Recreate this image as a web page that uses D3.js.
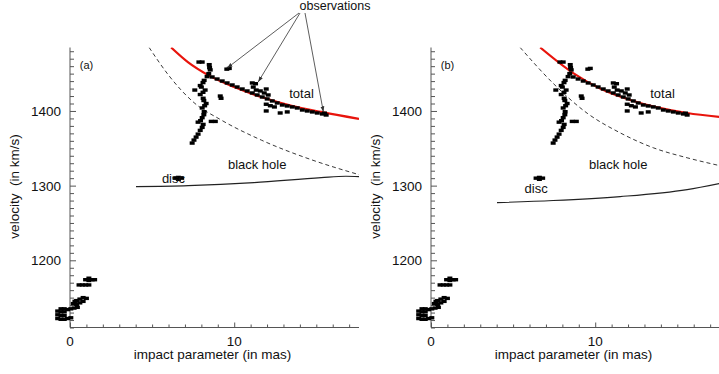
<!DOCTYPE html>
<html><head><meta charset="utf-8">
<script src="https://cdn.jsdelivr.net/npm/d3@7"></script>
<style>
html,body{margin:0;padding:0;background:#fff;}
text{font-family:"Liberation Sans",Arial,Helvetica,sans-serif;fill:#111;}
</style></head>
<body>
<svg id="chart" width="719" height="374"></svg>
<script>
// ---------------- data ----------------
const xDomain = [0, 17.6];
const yDomain = [1110, 1485];
const xMajorTicks = [0, 10];
const yMajorTicks = [1200, 1300, 1400];
const panelLabels = ["(a)", "(b)"];

// model curves, panel (a)
const totalA = [[6.16,1485],[7.2,1465],[8.41,1448],[10.0,1432],[11.65,1418.7],[13.5,1407],[15.3,1398.7],[17.6,1389.3]];
const blackHoleA = [[4.82,1485],[6.0,1448],[7.56,1411],[9.2,1388],[11.65,1361],[14.7,1334.7],[17.6,1314.7]];
const discA = [[4.02,1298.7],[7.2,1300],[11.2,1304],[15.3,1310.7],[16.8,1312.5],[17.6,1312]];
// model curves, panel (b)
const totalB = [[6.65,1485],[8.66,1450.7],[10.3,1430],[12.13,1414.7],[15.6,1397.3],[17.6,1392]];
const blackHoleB = [[5.43,1485],[7.44,1437],[9.51,1397],[11.52,1370.7],[13.54,1350.7],[15.6,1337.3],[17.6,1326.7]];
const discB = [[4.02,1277.3],[7.44,1280],[11.52,1285.3],[15.6,1294.7],[17.6,1303]];

// observed maser positions (impact parameter mas, velocity km/s) – same in both panels
const observations = [
  // near-systemic cluster
  [-0.75,1122],[-0.75,1127],[-0.75,1132],[-0.55,1121],[-0.55,1126],[-0.55,1131],[-0.55,1135],
  [-0.35,1121],[-0.35,1126],[-0.35,1131],[-0.35,1135],[-0.15,1122],[-0.15,1134],[0.05,1123],
  [0.05,1135],[0.25,1136],[0.45,1137],
  [0.2,1142],[0.4,1141],[0.4,1146],[0.6,1143],[0.6,1148],[0.8,1145],[0.8,1150],[1.0,1149],[0.3,1145],
  [0.55,1167],[0.75,1167],[0.95,1167],[1.15,1167],
  [0.95,1174],[1.15,1173],[1.15,1176],[1.35,1174],[1.5,1174],
  // disc feature
  [6.4,1310],[6.6,1311],[6.8,1310],[6.6,1308.5],
  // vertical chain near 8 mas
  [7.44,1357],[7.55,1361],[7.68,1365],[7.8,1369],[7.93,1374],[8.05,1378],[8.11,1382],[7.8,1385],
  [7.95,1387],[8.05,1391],[8.15,1395],[8.17,1399],[8.05,1404],[8.2,1407],[8.29,1410],[8.15,1414],
  [8.11,1417],[7.93,1422],[8.1,1425],[8.23,1428],[8.0,1432],[7.93,1434],[8.1,1438],[8.17,1441],
  [8.35,1446],[8.45,1450],[8.54,1455],[8.5,1458],[8.48,1462],[8.05,1465.5],[7.85,1465.5],
  [9.15,1420],[9.2,1417],[9.55,1456],[9.7,1457],[7.6,1428],[8.6,1386],[8.85,1386],
  // track along the total curve
  [8.66,1445.5],[8.96,1442.8],[9.27,1440.1],[9.57,1437.5],[9.88,1434.8],[10.18,1432.1],[10.49,1429.4],
  [10.79,1426.8],[11.1,1424.1],[11.4,1421.4],[11.71,1418.7],[12.01,1416.1],[12.32,1413.4],[12.62,1410.7],
  [12.93,1408],[13.23,1406.7],[13.54,1405.4],[13.84,1404],[14.15,1401.3],[14.45,1400],[14.76,1398.7],
  [15.06,1397.3],[15.37,1396],[15.6,1394.6],[15.5,1397],
  // S-shaped group near 11.5 mas
  [11.1,1437.5],[11.3,1436.5],[11.16,1432],[11.34,1428],[11.59,1426.8],[11.83,1424.1],[12.07,1421.4],[11.95,1429.4],
  // scattered points below the curve
  [11.95,1409],[12.2,1407],[12.45,1405.4],[11.95,1400],[12.8,1397.3],[13.23,1398.7]
];

// annotation targets (data coordinates)
const obsArrowTargets = [[9.57,1457.5],[11.46,1438.8],[15.43,1398.7]];

// ---------------- drawing ----------------
const svg = d3.select("#chart");
const yScale = d3.scaleLinear().domain(yDomain).range([327.5, 47.5]);
const panels = [
  {x0:70, x1:359, label:panelLabels[0], total:totalA, bh:blackHoleA, disc:discA,
   txt:{total:[14.1,1417.5], bh:[11.4,1322.5], disc:[6.3,1303.5], obs:true}},
  {x0:431, x1:720, label:panelLabels[1], total:totalB, bh:blackHoleB, disc:discB,
   txt:{total:[14.1,1417.5], bh:[11.4,1322.5], disc:[6.4,1290], obs:false}}
];

const defs = svg.append("defs");
defs.append("marker").attr("id","arr").attr("viewBox","0 0 10 10")
  .attr("refX",10).attr("refY",5).attr("markerWidth",7).attr("markerHeight",7)
  .attr("orient","auto").append("path").attr("d","M0,1.5 L10,5 L0,8.5 Z").attr("fill","#333");

panels.forEach((p,i)=>{
  const x = d3.scaleLinear().domain(xDomain).range([p.x0,p.x1]);
  const g = svg.append("g");
  const clipId = "clip"+i;
  defs.append("clipPath").attr("id",clipId).append("rect")
    .attr("x",p.x0-20).attr("y",yScale(yDomain[1])).attr("width",p.x1-p.x0+20).attr("height",yScale(yDomain[0])-yScale(yDomain[1]));

  // axes
  const minorX = d3.range(0,18,1);
  const minorY = d3.range(1110,1486,10);
  const ax = g.append("g").attr("stroke","#555").attr("stroke-width",1);
  ax.append("line").attr("x1",p.x0).attr("x2",p.x1).attr("y1",yScale(yDomain[0])).attr("y2",yScale(yDomain[0]));
  ax.append("line").attr("x1",p.x0).attr("x2",p.x0).attr("y1",yScale(yDomain[0])).attr("y2",yScale(yDomain[1]));
  minorX.forEach(v=>{
    const len = xMajorTicks.includes(v)?5:3;
    ax.append("line").attr("x1",x(v)+0.5).attr("x2",x(v)+0.5)
      .attr("y1",yScale(yDomain[0])).attr("y2",yScale(yDomain[0])-len);
  });
  minorY.forEach(v=>{
    const len = yMajorTicks.includes(v)?6:4;
    ax.append("line").attr("x1",p.x0).attr("x2",p.x0+len)
      .attr("y1",yScale(v)+0.5).attr("y2",yScale(v)+0.5);
  });
  xMajorTicks.forEach(v=>{
    g.append("text").attr("x",x(v)).attr("y",345.5).attr("text-anchor","middle")
      .attr("font-size",13.5).text(v);
  });
  yMajorTicks.forEach(v=>{
    g.append("text").attr("x",p.x0-9).attr("y",yScale(v)+5).attr("text-anchor","end")
      .attr("font-size",13.5).text(v);
  });
  g.append("text").attr("x",(p.x0+p.x1)/2-2).attr("y",359).attr("text-anchor","middle")
    .attr("font-size",13.5).text("impact parameter (in mas)");
  g.append("text").attr("transform",`translate(${p.x0-51},186.5) rotate(-90)`)
    .attr("text-anchor","middle").attr("font-size",13.5).attr("xml:space","preserve")
    .text("velocity  (in km/s)");
  g.append("text").attr("x",x(0.6)).attr("y",yScale(1462)+4).attr("font-size",11).text(p.label);

  // curves
  const line = d3.line().x(d=>x(d[0])).y(d=>yScale(d[1])).curve(d3.curveMonotoneX);
  const cg = g.append("g").attr("clip-path",`url(#${clipId})`);
  cg.append("path").attr("d",line(p.bh)).attr("fill","none").attr("stroke","#222")
    .attr("stroke-width",0.9).attr("stroke-dasharray","4,3");
  cg.append("path").attr("d",line(p.disc)).attr("fill","none").attr("stroke","#222").attr("stroke-width",1.1);
  cg.append("path").attr("d",line(p.total)).attr("fill","none").attr("stroke","#e8140c").attr("stroke-width",2.2);

  // observations
  g.append("g").selectAll("rect").data(observations).join("rect")
    .attr("x",d=>x(d[0])-2.5).attr("y",d=>yScale(d[1])-1.7)
    .attr("width",5).attr("height",3.4).attr("fill","#000");

  // labels
  g.append("text").attr("x",x(p.txt.total[0])).attr("y",yScale(p.txt.total[1])).attr("text-anchor","middle").attr("font-size",13).text("total");
  g.append("text").attr("x",x(p.txt.bh[0])).attr("y",yScale(p.txt.bh[1])).attr("text-anchor","middle").attr("font-size",13).text("black hole");
  g.append("text").attr("x",x(p.txt.disc[0])).attr("y",yScale(p.txt.disc[1])).attr("text-anchor","middle").attr("font-size",13).text("disc");

  if (p.txt.obs) {
    svg.append("text").attr("x",335).attr("y",10).attr("text-anchor","middle").attr("font-size",12.5).text("observations");
    const starts = [[299,13],[300,13],[305,13]];
    obsArrowTargets.forEach((t,k)=>{
      svg.append("line").attr("x1",starts[k][0]).attr("y1",starts[k][1])
        .attr("x2",x(t[0])).attr("y2",yScale(t[1]))
        .attr("stroke","#333").attr("stroke-width",0.8).attr("marker-end","url(#arr)");
    });
  }
});
</script>
</body></html>
